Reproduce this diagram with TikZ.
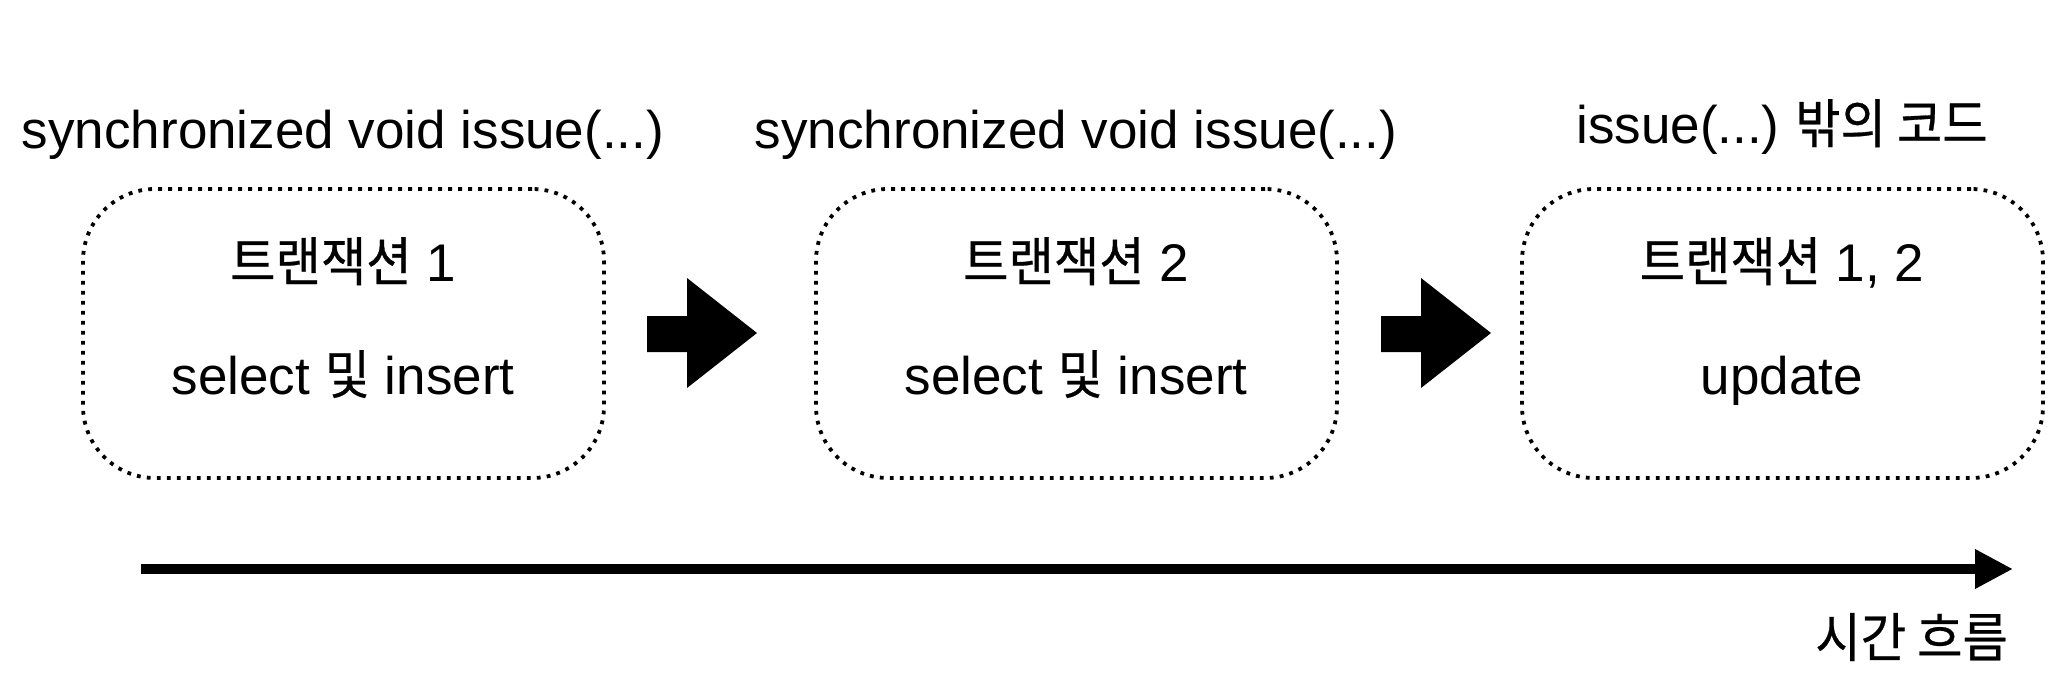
\documentclass[tikz,border=0pt]{standalone}
\usepackage{fontspec}
\setmainfont{Liberation Sans}
\newfontfamily\kr[Scale=1.0,FakeStretch=0.93,FakeBold=0.5]{Noto Sans CJK KR}
\usetikzlibrary{arrows.meta}
\tikzset{
  txbox/.style={draw=black, line width=3.8pt, dash pattern=on 3.8pt off 6.2pt,
    rounded corners=72pt, minimum width=521pt, minimum height=289pt, inner sep=0pt},
  lbl/.style={font=\fontsize{53}{60}\selectfont, inner sep=0pt, anchor=base},
  blockarrow/.style={fill=black, draw=none},
  timeline/.style={line width=10pt, -{Triangle[length=38pt,width=37pt]}}
}
\begin{document}
\begin{tikzpicture}[x=1pt,y=-1pt]
\useasboundingbox (0,0) rectangle (2071,682);
% boxes
\node[txbox] (b1) at (343.5,333.5) {};
\node[txbox] (b2) at (1076.5,333.5) {};
\node[txbox] (b3) at (1782.5,333.5) {};
% titles
\node[lbl] (t1) at (343,148) {synchronized void issue(...)};
\node[lbl] (t2) at (1076,148) {synchronized void issue(...)};
\node[lbl] (t3) at (1782,143) {issue(...)\hspace{-4pt} {\kr 밖의 코드}};
% inner texts
\node[lbl] (a1) at (343,281) {{\kr 트랜잭션} 1};
\node[lbl] (s1) at (343,394) {select {\kr 및} insert};
\node[lbl] (a2) at (1076,281) {{\kr 트랜잭션} 2};
\node[lbl] (s2) at (1076,394) {select {\kr 및} insert};
\node[lbl] (a3) at (1782,281) {{\kr 트랜잭션} 1, 2};
\node[lbl] (s3) at (1782,394) {update};
% block arrows
\fill[blockarrow] (647,316) -- (687,316) -- (687,278) -- (757,333) -- (687,388) -- (687,352) -- (647,352) -- cycle;
\fill[blockarrow] (1381,316) -- (1421,316) -- (1421,278) -- (1491,333) -- (1421,388) -- (1421,352) -- (1381,352) -- cycle;
% timeline
\coordinate (tl0) at (141,569);
\coordinate (tl1) at (2013,569);
\draw[timeline] (tl0) -- (tl1);
\node[font=\fontsize{53}{60}\selectfont, inner sep=0pt, anchor=east] (tl) at (2008,637) {\kr 시간 흐름};
\end{tikzpicture}
\end{document}
